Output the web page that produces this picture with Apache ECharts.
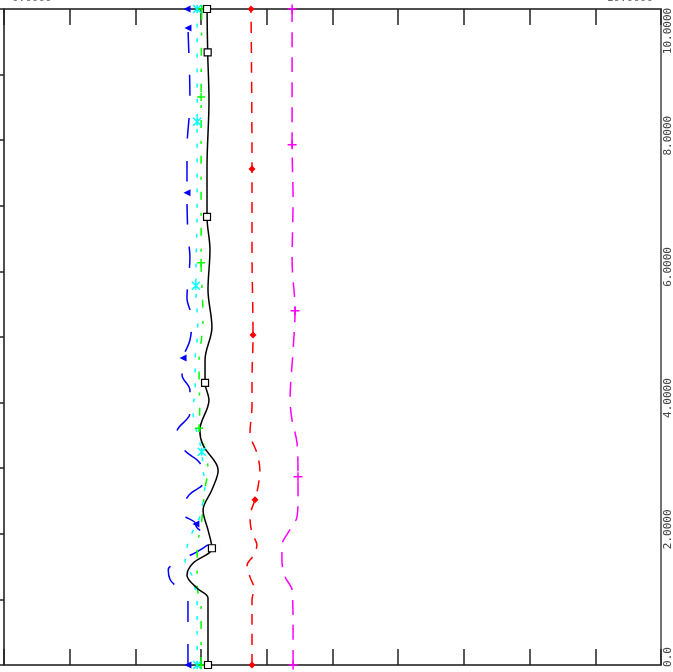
<!DOCTYPE html>
<html>
<head>
<meta charset="utf-8">
<script src="https://cdn.jsdelivr.net/npm/echarts@6/dist/echarts.min.js"></script>
<style>html,body{margin:0;padding:0;background:#fff}#c{width:673px;height:672px}</style>
</head>
<body>
<div id="c"></div>
<script>
// vertical (right) axis values, horizontal positions
const blackY = [0, 0.5, 1.02, 1.17, 1.37, 1.55, 1.78, 2.06, 2.36, 2.67, 2.97, 3.35, 3.58, 4.04, 4.30, 4.65, 5.15, 5.72, 6.33, 6.83, 7.59, 8.61, 9.34, 10];
const blackX = [3.105, 3.105, 3.105, 2.94, 2.785, 2.875, 3.165, 3.105, 3.03, 3.165, 3.26, 3.03, 2.98, 3.12, 3.06, 3.06, 3.165, 3.105, 3.135, 3.09, 3.09, 3.12, 3.10, 3.09];
const blackMarks = [0, 1.78, 4.30, 6.83, 9.34, 10];

const blueY = [0, 0.5, 0.99, 1.19, 1.30, 1.45, 1.63, 1.75, 1.91, 2.13, 2.15, 2.33, 2.59, 2.79, 3.08, 3.28, 3.55, 3.84, 4.19, 4.42, 4.68, 4.95, 5.29, 5.59, 6.22, 6.55, 7.20, 7.85, 8.61, 9.71, 10];
const blueX = [2.80, 2.80, 2.80, 2.63, 2.53, 2.50, 2.755, 2.98, 3.165, 2.92, 2.92, 2.69, 2.815, 3.04, 2.98, 2.74, 2.63, 2.83, 2.83, 2.71, 2.725, 2.83, 2.86, 2.785, 2.83, 2.80, 2.785, 2.785, 2.83, 2.80, 2.785];
const blueMarks = [0, 2.15, 4.68, 7.20, 9.71, 10];

const cyanY = [0, 0.5, 0.99, 1.17, 1.37, 1.55, 1.80, 2.01, 2.26, 2.52, 2.77, 2.97, 3.25, 3.54, 3.73, 3.93, 4.19, 4.65, 5.11, 5.78, 7.09, 8.28, 10];
const cyanX = [2.94, 2.94, 2.94, 2.91, 2.86, 2.755, 2.785, 2.86, 2.98, 3.03, 3.06, 3.03, 3.01, 2.94, 2.88, 2.88, 2.91, 2.91, 2.95, 2.92, 2.94, 2.94, 2.94];
const cyanMarks = [0, 3.25, 5.78, 8.28, 10];

const greenY = [0, 0.5, 0.99, 1.11, 1.37, 1.65, 1.86, 2.21, 2.41, 2.70, 2.97, 3.48, 3.61, 3.96, 4.30, 4.70, 5.00, 5.30, 5.82, 6.13, 7.09, 8.66, 10];
const greenX = [3.00, 3.00, 3.00, 2.95, 2.94, 2.94, 2.95, 3.01, 3.03, 3.06, 3.105, 3.01, 2.97, 2.98, 2.97, 2.97, 3.01, 3.03, 3.01, 3.00, 3.00, 3.00, 3.01];
const greenMarks = [0, 3.61, 6.13, 8.66, 10];

const redY = [0, 0.5, 0.99, 1.17, 1.34, 1.52, 1.66, 1.83, 2.01, 2.26, 2.52, 2.71, 2.97, 3.23, 3.54, 3.96, 4.34, 5.03, 6.33, 7.56, 10];
const redX = [3.775, 3.775, 3.775, 3.805, 3.745, 3.70, 3.79, 3.85, 3.775, 3.745, 3.82, 3.865, 3.895, 3.85, 3.745, 3.775, 3.775, 3.79, 3.775, 3.775, 3.76];
const redMarks = [0, 2.52, 5.03, 7.56, 10];

const magentaY = [0, 0.5, 1.14, 1.34, 1.60, 1.83, 2.01, 2.26, 2.52, 2.87, 3.38, 3.73, 4.04, 4.80, 5.40, 6.17, 7.09, 7.93, 10];
const magentaX = [4.40, 4.40, 4.385, 4.28, 4.23, 4.23, 4.32, 4.46, 4.475, 4.475, 4.46, 4.385, 4.355, 4.40, 4.43, 4.385, 4.40, 4.385, 4.385];
const magentaMarks = [0, 2.87, 5.40, 7.93, 10];

const rightTicks = [0, 1, 2, 3, 4, 5, 6, 7, 8, 9, 10];
const topLabels = ['0.0000', '10.0000'];

const chart = echarts.init(document.getElementById('c'), null, {renderer: 'canvas'});

function mk(name, xs, ys, marks, color, dash, symbol, size, opts) {
  const data = ys.map((y, i) => {
    const item = {value: [xs[i], y]};
    if (marks.indexOf(y) >= 0) { item.symbol = symbol; } else { item.symbol = 'none'; }
    return item;
  });
  return Object.assign({
    name: name, type: 'line', data: data, smooth: 0.35,
    symbolSize: size, showSymbol: true, showAllSymbol: true, clip: false,
    lineStyle: {color: color, width: 1.5, type: dash},
    itemStyle: {color: color},
    emphasis: {disabled: true}, animation: false
  }, opts || {});
}

const plus = 'path://M5,0L5,10M0,5L10,5';
const star = 'path://M5,0L5,10M0,0L10,10M10,0L0,10';

const axisCol = '#444';
chart.setOption({
  animation: false,
  backgroundColor: '#fff',
  grid: {left: 4, right: 12, top: 9, bottom: 7, show: true, borderColor: axisCol, borderWidth: 1.5,
         backgroundColor: 'transparent', containLabel: false, outerBoundsMode: 'none'},
  xAxis: [
    {type: 'value', position: 'bottom', min: 0, max: 10, interval: 1,
     axisLine: {show: true, lineStyle: {color: axisCol, width: 1.5}},
     axisTick: {show: true, inside: true, length: 16, lineStyle: {color: '#222', width: 1.5}},
     axisLabel: {show: false}, splitLine: {show: false}},
    {type: 'value', position: 'top', min: 0, max: 10, interval: 1,
     axisLine: {show: true, lineStyle: {color: axisCol, width: 1.5}},
     axisTick: {show: true, inside: true, length: 16, lineStyle: {color: '#222', width: 1.5}},
     axisLabel: {show: true, margin: 5, fontFamily: 'DejaVu Sans Mono', fontSize: 11, color: '#666',
       alignMinLabel: 'left', alignMaxLabel: 'right', padding: [0, 8, 0, 8],
       formatter: v => v === 0 ? topLabels[0] : (v === 10 ? topLabels[1] : '')},
     splitLine: {show: false}}
  ],
  yAxis: [
    {type: 'value', position: 'right', min: rightTicks[0], max: rightTicks[rightTicks.length - 1], interval: 1,
     axisLine: {show: true, lineStyle: {color: axisCol, width: 1.5}},
     axisTick: {show: true, inside: true, length: 16, lineStyle: {color: '#222', width: 1.5}},
     axisLabel: {show: true, rotate: 90, margin: 2, fontFamily: 'DejaVu Sans Mono', fontSize: 11, color: '#444',
       interval: 0, hideOverlap: false,
       formatter: v => {
         if (v % 2 !== 0) return '';
         if (v === 0) return '{a|0.0}';
         if (v === 10) return '{m|' + v.toFixed(4) + '}';
         return '{b|' + v.toFixed(4) + '}';
       },
       rich: {
         a: {fontFamily: 'DejaVu Sans Mono', fontSize: 11, color: '#444', padding: [0, 0, 0, 16]},
         b: {fontFamily: 'DejaVu Sans Mono', fontSize: 11, color: '#444', padding: [0, 0, 0, 9]},
         m: {fontFamily: 'DejaVu Sans Mono', fontSize: 11, color: '#444', padding: [0, 44, 0, 0]}
       }},
     splitLine: {show: false}}
  ],
  series: [
    mk('magenta', magentaX, magentaY, magentaMarks, '#ff00ff', [15, 10], plus, 9,
       {itemStyle: {color: 'transparent', borderColor: '#ff00ff', borderWidth: 1.5}}),
    mk('red', redX, redY, redMarks, '#ff0000', [11, 9], 'diamond', 7),
    mk('blue', blueX, blueY, blueMarks, '#0000ff', [21, 22], 'triangle', 7, {symbolRotate: 90}),
    mk('cyan', cyanX, cyanY, cyanMarks, '#00ffff', [4, 11], star, 8,
       {itemStyle: {color: 'transparent', borderColor: '#00ffff', borderWidth: 1.5}}),
    mk('green', greenX, greenY, greenMarks, '#00ff00', [8, 12, 3, 13], plus, 8,
       {itemStyle: {color: 'transparent', borderColor: '#00ff00', borderWidth: 1.5}}),
    mk('black', blackX, blackY, blackMarks, '#000000', 'solid', 'rect', 7,
       {itemStyle: {color: '#ffffff', borderColor: '#000000', borderWidth: 1.2}})
  ]
});
</script>
</body>
</html>
